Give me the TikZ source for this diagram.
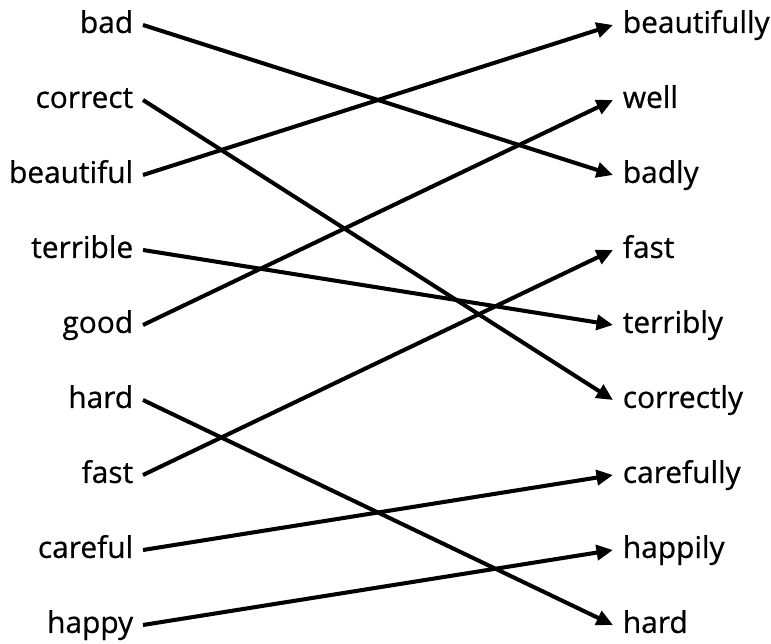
\documentclass[tikz,border=0pt]{standalone}
\usepackage{fontspec}
\setmainfont{Open Sans}
\newfontfamily\wordfont{Open Sans}[FakeBold=0.7]
\usetikzlibrary{arrows.meta}

\tikzset{
  WordStyle/.style = {font=\wordfont\fontsize{17pt}{20pt}\selectfont, inner xsep=0.19cm, inner ysep=0pt,
                      text height=0.9em, text depth=0pt},
  EdgeStyle/.style = {line width=2.3pt, -{Triangle[length=0.33cm,width=0.3cm]}}
}

\begin{document}
\begin{tikzpicture}
          \useasboundingbox (0,0) rectangle (15.42,12.88);
          % adjectives
          \node[WordStyle,anchor=east] (a_1) at (2.86,12.38){bad};
          \node[WordStyle,anchor=east] (a_2) at (2.86,10.88){correct};
          \node[WordStyle,anchor=east] (a_3) at (2.86,9.38){beautiful};
          \node[WordStyle,anchor=east] (a_4) at (2.86,7.88){terrible};
          \node[WordStyle,anchor=east] (a_5) at (2.86,6.38){good};
          \node[WordStyle,anchor=east] (a_6) at (2.86,4.88){hard};
          \node[WordStyle,anchor=east] (a_7) at (2.86,3.38){fast};
          \node[WordStyle,anchor=east] (a_8) at (2.86,1.88){careful};
          \node[WordStyle,anchor=east] (a_9) at (2.86,0.38){happy};
          
          % adverbs
          \node[WordStyle,anchor=west] (d_1) at (12.26,12.38){beautifully};
          \node[WordStyle,anchor=west] (d_2) at (12.26,10.88){well};
          \node[WordStyle,anchor=west] (d_3) at (12.26,9.38){badly};
          \node[WordStyle,anchor=west] (d_4) at (12.26,7.88){fast};
          \node[WordStyle,anchor=west] (d_5) at (12.26,6.38){terribly};
          \node[WordStyle,anchor=west] (d_6) at (12.26,4.88){correctly};
          \node[WordStyle,anchor=west] (d_7) at (12.26,3.38){carefully};
          \node[WordStyle,anchor=west] (d_8) at (12.26,1.88){happily};
          \node[WordStyle,anchor=west] (d_9) at (12.26,0.38){hard};
          
          % matching edges
          \draw[EdgeStyle] (a_1.east) -- (d_3.west);
          \draw[EdgeStyle] (a_2.east) -- (d_6.west);
          \draw[EdgeStyle] (a_3.east) -- (d_1.west);
          \draw[EdgeStyle] (a_4.east) -- (d_5.west);
          \draw[EdgeStyle] (a_5.east) -- (d_2.west);
          \draw[EdgeStyle] (a_6.east) -- (d_9.west);
          \draw[EdgeStyle] (a_7.east) -- (d_4.west);
          \draw[EdgeStyle] (a_8.east) -- (d_7.west);
          \draw[EdgeStyle] (a_9.east) -- (d_8.west);
        \end{tikzpicture}
\end{document}
